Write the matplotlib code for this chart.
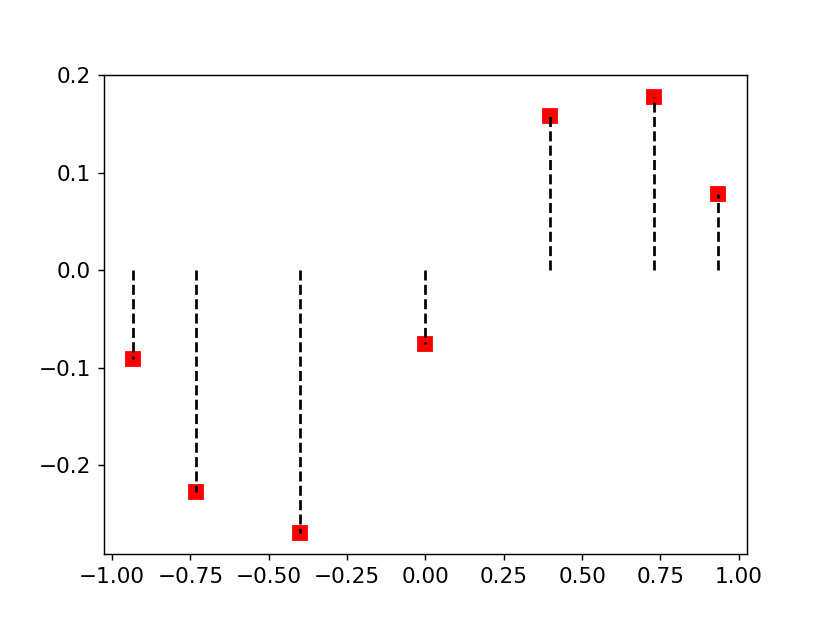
import matplotlib
matplotlib.use('Agg')
import matplotlib.pyplot as plt

plt.rcParams['font.size'] = 12

# node positions and values
nodes = [-0.933, -0.731, -0.399, 0.0, 0.398, 0.731, 0.933]
values = [-0.091, -0.227, -0.269, -0.076, 0.158, 0.178, 0.078]

fig = plt.figure(figsize=(830 / 130, 623 / 130), dpi=130)
plt.plot(nodes, values, 'rs', markersize=8)
for x, y in zip(nodes, values):
    plt.plot([x, x], [0, y], 'k--', linewidth=1.5)

plt.savefig('out.png', dpi=130)
